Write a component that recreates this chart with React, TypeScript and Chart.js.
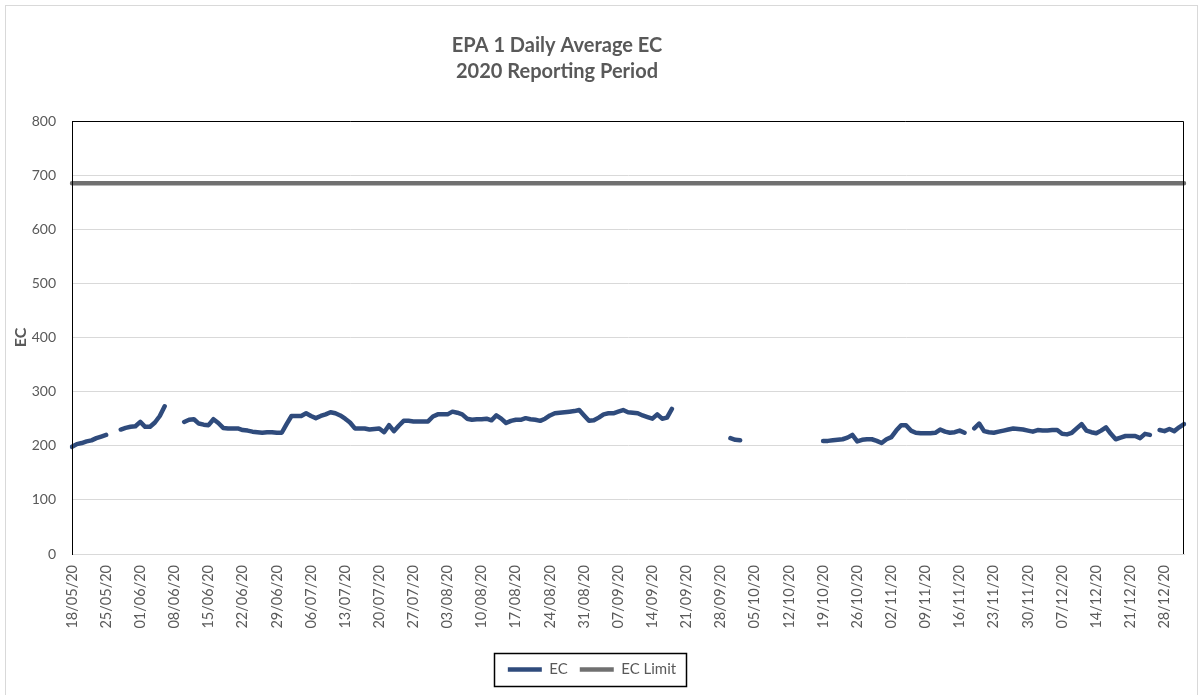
import React, { useEffect, useRef } from "react";
import { Chart, registerables } from "chart.js";

Chart.register(...registerables);

// ---- categories: daily dates 18/05/20 .. 01/01/21 ----
const START_Y = 2020;
const START_M = 4; // May (0-based)
const START_D = 18;
const DAY_COUNT = 229;
const categories: string[] = Array.from({ length: DAY_COUNT }, (_, i) => {
  const d = new Date(Date.UTC(START_Y, START_M, START_D + i));
  const dd = String(d.getUTCDate()).padStart(2, "0");
  const mm = String(d.getUTCMonth() + 1).padStart(2, "0");
  const yy = String(d.getUTCFullYear() % 100).padStart(2, "0");
  return `${dd}/${mm}/${yy}`;
});

// ---- series: EC daily average (null = no data) ----
const ecValues: (number | null)[] = [
  198, 203, 205, 208, 210, 214, 217, 220,
  null, null,
  230, 233, 235, 236, 244, 235, 235, 243, 255, 273,
  null, null, null,
  244, 248, 249, 241, 239, 238, 249, 242, 233, 232,
  232, 232, 229, 228, 226, 225, 224, 225, 225, 224,
  224, 240, 255, 255, 255, 260, 255, 251, 255, 258,
  262, 260, 256, 250, 243, 232, 232, 232, 230, 231,
  232, 225, 238, 227, 237, 246, 246, 245, 245, 245,
  245, 254, 258, 258,
  258, 263, 261, 258, 250, 248, 249, 249, 250, 247,
  256, 250, 242, 246, 248, 248, 251, 249, 248, 246,
  250, 256, 260, 261, 262, 263, 264, 266, 256, 246,
  247, 252, 258, 260, 260, 263, 266, 262, 261, 260,
  256, 253, 250, 258, 250, 252, 268,
  null, null, null, null, null, null, null, null, null, null, null,
  214, 211, 210,
  null, null, null, null, null, null, null, null,
  null, null, null, null, null, null, null, null,
  209, 209, 210, 211, 212, 215, 220, 208, 211, 212,
  212, 209, 205, 212, 216, 228, 238, 238, 228, 224,
  223, 223, 223, 224, 230, 226, 224, 225, 228, 224,
  null,
  232, 241, 227, 225, 224, 226, 228, 230, 232, 231,
  230, 228, 226, 229, 228, 228, 229, 229, 222, 221,
  224, 232, 240, 228, 225, 223, 228, 234, 222, 212,
  215, 218, 218, 218, 214, 222, 220,
  null,
  229, 227, 231, 227, 234, 240,
];

// ---- series: EC limit ----
const EC_LIMIT = 685;
const ecLimitValues: number[] = categories.map(() => EC_LIMIT);

// ---- axis settings ----
const Y_MIN = 0;
const Y_MAX = 800;
const Y_STEP = 100;
const X_LABEL_EVERY = 7;

const TITLE_LINES = ["EPA 1 Daily Average EC", "2020 Reporting Period"];
const TEXT = "#595959";
const FONT = "Lato";
const PAD_BOTTOM = 8;

const framePlugin = {
  id: "frame",
  afterLayout(chart: any) {
    const t = chart.titleBlock;
    if (t) {
      const c = 557;
      t.left = c - 300;
      t.right = c + 300;
    }
  },
  beforeDraw(chart: any) {
    const ctx = chart.ctx;
    ctx.save();
    ctx.fillStyle = "#ffffff";
    ctx.fillRect(0, 0, chart.width, chart.height);
    ctx.strokeStyle = "#d9d9d9";
    ctx.lineWidth = 1;
    ctx.strokeRect(5.5, 5.5, chart.width - 11, chart.height + 20);
    ctx.restore();
  },
  afterDraw(chart: any) {
    const ctx = chart.ctx;
    const a = chart.chartArea;
    ctx.save();
    ctx.strokeStyle = "#000000";
    ctx.lineWidth = 1;
    ctx.beginPath();
    ctx.moveTo(Math.round(a.left) + 0.5, a.bottom);
    ctx.lineTo(Math.round(a.left) + 0.5, Math.round(a.top) + 0.5);
    ctx.lineTo(Math.round(a.right) - 0.5, Math.round(a.top) + 0.5);
    ctx.lineTo(Math.round(a.right) - 0.5, a.bottom);
    ctx.stroke();
    const lg = chart.legend;
    if (lg && lg.legendHitBoxes && lg.legendHitBoxes.length) {
      const hb = lg.legendHitBoxes;
      let l = Infinity, r = -Infinity, cy = 0;
      hb.forEach((b: any) => {
        l = Math.min(l, b.left);
        r = Math.max(r, b.left + b.width);
        cy = b.top + b.height / 2;
      });
      ctx.strokeStyle = "#000000";
      ctx.lineWidth = 1.5;
      ctx.strokeRect(Math.round(l - 14) + 0.5, Math.round(cy - 16.5) + 0.5, Math.round(r - l + 24), 33);
    }
    ctx.restore();
  },
};

export default function App() {
  const ref = useRef<HTMLCanvasElement | null>(null);
  useEffect(() => {
    if (!ref.current) return;
    const chart = new Chart(ref.current, {
      type: "line",
      data: {
        labels: categories,
        datasets: [
          {
            label: "EC",
            data: ecValues,
            borderColor: "#2F4B7C",
            backgroundColor: "#2F4B7C",
            borderWidth: 4.5,
            pointRadius: 0,
            pointHoverRadius: 0,
            tension: 0,
            spanGaps: false,
            fill: false,
            borderCapStyle: "round",
            borderJoinStyle: "round",
          },
          {
            label: "EC Limit",
            data: ecLimitValues,
            borderColor: "#707070",
            backgroundColor: "#707070",
            borderWidth: 4.5,
            pointRadius: 0,
            pointHoverRadius: 0,
            tension: 0,
            fill: false,
            borderCapStyle: "round",
          },
        ],
      },
      options: {
        responsive: false,
        animation: false,
        events: [],
        layout: { padding: { left: 0, right: 19, top: 0, bottom: PAD_BOTTOM } },
        plugins: {
          title: {
            display: true,
            text: TITLE_LINES,
            color: TEXT,
            font: { family: FONT, size: 20, weight: "bold", lineHeight: 26 / 20 },
            padding: { top: 33, bottom: 36 },
          },
          legend: {
            display: true,
            position: "bottom",
            labels: {
              usePointStyle: true,
              pointStyle: "line",
              pointStyleWidth: 34,
              boxHeight: 15,
              color: TEXT,
              font: { family: FONT, size: 15 },
              padding: 12,
            },
          },
          tooltip: { enabled: false },
        },
        scales: {
          x: {
            type: "category",
            offset: false,
            grid: { display: false, drawTicks: false },
            border: { display: true, color: "#d9d9d9", width: 1 },
            ticks: {
              autoSkip: false,
              minRotation: 90,
              maxRotation: 90,
              padding: 11,
              color: TEXT,
              font: { family: FONT, size: 14.5 },
              callback: (_v: any, i: number) => (i % X_LABEL_EVERY === 0 ? categories[i] : null),
            },
            afterFit: (scale: any) => {
              const ch = scale.chart;
              const lh = ch.legend ? ch.legend.height : 0;
              scale.height = Math.max(0, ch.height - 554 - lh - PAD_BOTTOM);
            },
          },
          y: {
            min: Y_MIN,
            max: Y_MAX,
            ticks: {
              stepSize: Y_STEP,
              padding: 16,
              color: TEXT,
              font: { family: FONT, size: 14 },
            },
            grid: { color: "#d9d9d9", drawTicks: false, lineWidth: 1 },
            border: { display: true, color: "#000000", width: 1 },
            title: {
              display: true,
              text: "EC",
              color: TEXT,
              font: { family: FONT, size: 16, weight: "bold" },
              padding: { top: 11, bottom: 0 },
            },
            afterFit: (scale: any) => {
              scale.width = 72;
            },
          },
        },
      },
      plugins: [framePlugin],
    });
    return () => chart.destroy();
  }, []);
  return (
    <div style={{ position: "absolute", left: 0, top: 0, width: 1203, height: 695, background: "#fff" }}>
      <canvas ref={ref} width={1203} height={695} style={{ display: "block", width: 1203, height: 695 }} />
    </div>
  );
}
